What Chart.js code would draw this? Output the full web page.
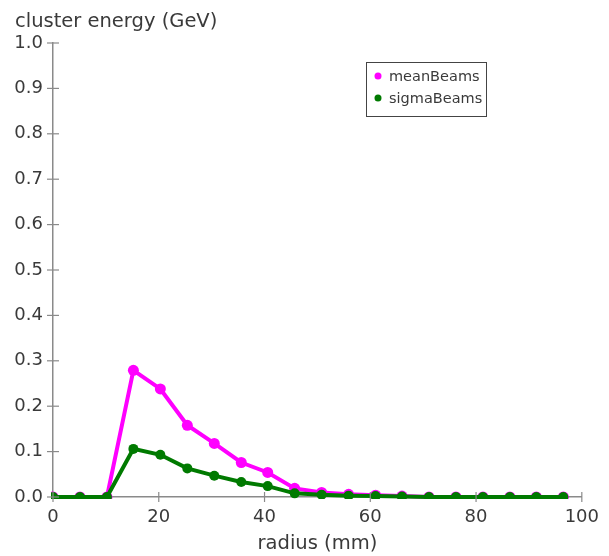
<!DOCTYPE html>
<html>
<head>
<meta charset="utf-8">
<script src="https://cdn.jsdelivr.net/npm/chart.js@4/dist/chart.umd.min.js"></script>
<style>
  html, body { margin: 0; padding: 0; background: #fff; }
  #wrap { width: 609px; height: 556px; }
</style>
</head>
<body>
<div id="wrap"><canvas id="chart" width="609" height="556"></canvas></div>
<script>
// radius bins (mm)
const radius = [0, 5.1, 10.2, 15.2, 20.3, 25.4, 30.5, 35.6, 40.6, 45.7,
                50.8, 55.9, 61.0, 66.0, 71.1, 76.2, 81.3, 86.4, 91.4, 96.5];
const meanBeams = [0, 0, 0, 0.279, 0.238, 0.158, 0.118, 0.076, 0.054, 0.019,
                   0.010, 0.006, 0.004, 0.002, 0, 0, 0, 0, 0, 0];
const sigmaBeams = [0, 0, 0, 0.106, 0.093, 0.063, 0.047, 0.033, 0.024, 0.008,
                    0.005, 0.003, 0.002, 0.001, 0, 0, 0, 0, 0, 0];
const yTitle = 'cluster energy (GeV)';
const xTitle = 'radius (mm)';

const FONT = '"DejaVu Sans", sans-serif';
const TEXT = '#3a3a3a';
const AXIS = '#8a8a8a';

function points(ys) {
    return radius.map((x, i) => ({ x: x, y: ys[i] }));
}

// ticks that cross the axis line, plus the floating legend and y title
const decorations = {
    id: 'decorations',
    afterDraw(chart) {
        const ctx = chart.ctx;
        const xs = chart.scales.x, ys = chart.scales.y;
        const area = chart.chartArea;
        ctx.save();
        ctx.strokeStyle = AXIS;
        ctx.lineWidth = 1.2;
        ys.ticks.forEach(t => {
            const py = ys.getPixelForValue(t.value);
            ctx.beginPath();
            ctx.moveTo(area.left - 6, py);
            ctx.lineTo(area.left + 6, py);
            ctx.stroke();
        });
        xs.ticks.forEach(t => {
            const px = xs.getPixelForValue(t.value);
            ctx.beginPath();
            ctx.moveTo(px, area.bottom - 5);
            ctx.lineTo(px, area.bottom + 5);
            ctx.stroke();
        });

        // y axis title, horizontal at top left
        ctx.fillStyle = TEXT;
        ctx.font = '19.5px ' + FONT;
        ctx.textBaseline = 'alphabetic';
        ctx.textAlign = 'left';
        ctx.fillText(yTitle, 15, 27);

        // legend box
        const lx = 366, ly = 62, lw = 120, lh = 54;
        ctx.fillStyle = '#fff';
        ctx.fillRect(lx, ly, lw, lh);
        ctx.strokeStyle = '#444';
        ctx.lineWidth = 1;
        ctx.strokeRect(lx + 0.5, ly + 0.5, lw, lh);
        ctx.font = '14.5px ' + FONT;
        ctx.textBaseline = 'middle';
        const entries = [chart.data.datasets[1], chart.data.datasets[0]];
        entries.forEach((ds, i) => {
            const cy = ly + 14 + i * 22;
            ctx.fillStyle = ds.borderColor;
            ctx.beginPath();
            ctx.arc(lx + 12, cy, 3.5, 0, Math.PI * 2);
            ctx.fill();
            ctx.fillStyle = TEXT;
            ctx.fillText(ds.label, lx + 23, cy + 1);
        });
        ctx.restore();
    }
};

const ctx = document.getElementById('chart').getContext('2d');
new Chart(ctx, {
    type: 'line',
    data: {
        datasets: [
            {
                label: 'sigmaBeams',
                data: points(sigmaBeams),
                borderColor: '#007a00',
                backgroundColor: '#007a00',
                borderWidth: 4,
                pointRadius: 5,
                pointHoverRadius: 5,
                pointBorderWidth: 0,
                clip: 2,
                order: 0
            },
            {
                label: 'meanBeams',
                data: points(meanBeams),
                borderColor: '#ff00ff',
                backgroundColor: '#ff00ff',
                borderWidth: 4,
                pointRadius: 5.5,
                pointHoverRadius: 5.5,
                pointBorderWidth: 0,
                clip: 2,
                order: 1
            }
        ]
    },
    options: {
        responsive: false,
        animation: false,
        layout: {
            padding: { left: 0, right: 23, top: 43, bottom: 0 }
        },
        plugins: {
            legend: { display: false },
            tooltip: { enabled: false }
        },
        scales: {
            x: {
                type: 'linear',
                min: 0,
                max: 100,
                afterFit: s => { s.height = 59; },
                ticks: {
                    stepSize: 20,
                    color: TEXT,
                    font: { family: FONT, size: 18 },
                    padding: 10,
                    maxRotation: 0
                },
                grid: { display: false, drawTicks: false },
                border: { display: true, color: AXIS, width: 1.5 },
                title: {
                    display: true,
                    text: xTitle,
                    color: TEXT,
                    font: { family: FONT, size: 19.5 },
                    padding: { top: 2, bottom: 0 }
                }
            },
            y: {
                type: 'linear',
                min: 0,
                max: 1,
                afterFit: s => { s.width = 53; },
                ticks: {
                    stepSize: 0.1,
                    color: TEXT,
                    font: { family: FONT, size: 18 },
                    padding: 10,
                    callback: v => v.toFixed(1)
                },
                grid: { display: false, drawTicks: false },
                border: { display: true, color: AXIS, width: 1.5 }
            }
        }
    },
    plugins: [decorations]
});
</script>
</body>
</html>
